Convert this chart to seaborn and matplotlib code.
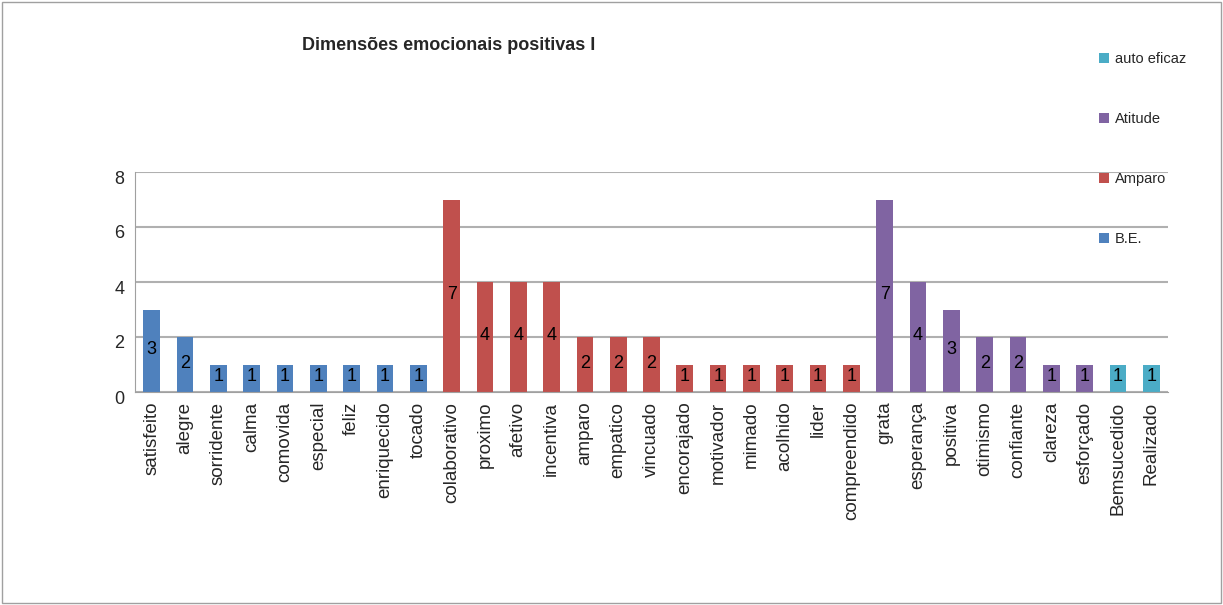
import matplotlib
matplotlib.use("Agg")
import matplotlib.pyplot as plt
import matplotlib.transforms as mtransforms
import seaborn as sns
import pandas as pd
from matplotlib.patches import Patch, Rectangle

categories = ["satisfeito", "alegre", "sorridente", "calma", "comovida", "especial", "feliz",
              "enriquecido", "tocado", "colaborativo", "proximo", "afetivo", "incentiva", "amparo",
              "empatico", "vincuado", "encorajado", "motivador", "mimado", "acolhido", "lider",
              "compreendido", "grata", "esperança", "positiva", "otimismo", "confiante", "clareza",
              "esforçado", "Bemsucedido", "Realizado"]
values = [3, 2, 1, 1, 1, 1, 1, 1, 1, 7, 4, 4, 4, 2, 2, 2, 1, 1, 1, 1, 1, 1,
          7, 4, 3, 2, 2, 1, 1, 1, 1]
groups = ["B.E."] * 9 + ["Amparo"] * 13 + ["Atitude"] * 7 + ["auto eficaz"] * 2
series_names = ["B.E.", "Amparo", "Atitude", "auto eficaz"]
series_colors = ["#4F81BD", "#C0504D", "#8064A2", "#4BACC6"]
yticks = [0, 2, 4, 6, 8]

df = pd.DataFrame({"cat": categories, "val": values, "grp": groups})
palette = dict(zip(series_names, series_colors))

sns.set_style("white")
plt.rcParams['font.family'] = ['Liberation Sans', 'DejaVu Sans']

fig = plt.figure(figsize=(12.23, 6.05), dpi=100)
fig.patches.append(Rectangle((0.002, 0.003), 0.996, 0.994, transform=fig.transFigure,
                             fill=False, edgecolor="#A0A0A0", linewidth=1))
ax = fig.add_axes([135 / 1223, (605 - 392) / 605, (1168 - 135) / 1223, (392 - 172) / 605])

sns.barplot(data=df, x="cat", y="val", hue="grp", palette=palette, dodge=False,
            width=0.5, ax=ax, legend=False, edgecolor="none", saturation=1)

for cont in ax.containers:
    for bar in cont:
        h = bar.get_height()
        if h and h > 0:
            ax.text(bar.get_x() + bar.get_width() / 2, h / 2 + 0.05, f"{int(round(h))}",
                    ha="center", va="center", fontsize=13, color="black")

ax.set_ylim(0, 8)
ax.set_yticks(yticks)
ax.set_xlim(-0.5, len(categories) - 0.5)
ax.yaxis.grid(True, color="#B0B0B0", linewidth=1.5)
ax.set_axisbelow(True)
for s in ["top", "right"]:
    ax.spines[s].set_visible(False)
ax.spines["left"].set_color("#A0A0A0")
ax.spines["bottom"].set_color("#A0A0A0")
ax.set_xlabel("")
ax.set_ylabel("")
ax.tick_params(axis="y", labelsize=13, length=4, color="#A0A0A0")
ax.tick_params(axis="x", labelsize=13.5, rotation=90, length=0, pad=7)
ax.set_xticks(range(len(categories)))
ax.set_xticks([i - 0.5 for i in range(len(categories) + 1)], minor=True)
ax.tick_params(axis="x", which="minor", length=5, color="#A0A0A0")

offset = mtransforms.ScaledTranslation(0, -5 / 100, fig.dpi_scale_trans)
for lbl in ax.get_yticklabels():
    lbl.set_transform(lbl.get_transform() + offset)

fig.text(449 / 1223, 1 - 45 / 605, "Dimensões emocionais positivas I", ha="center",
         va="center", fontsize=13, fontweight="bold")

handles = [Patch(facecolor=palette[n], edgecolor="none") for n in reversed(series_names)]
fig.legend(handles, list(reversed(series_names)), loc="upper left",
           bbox_to_anchor=(1086 / 1223, 1 - 39 / 605), frameon=False, fontsize=10.5,
           handlelength=0.7, handleheight=0.7, handletextpad=0.4, labelspacing=3.15)

fig.savefig("out.png", dpi=100)
